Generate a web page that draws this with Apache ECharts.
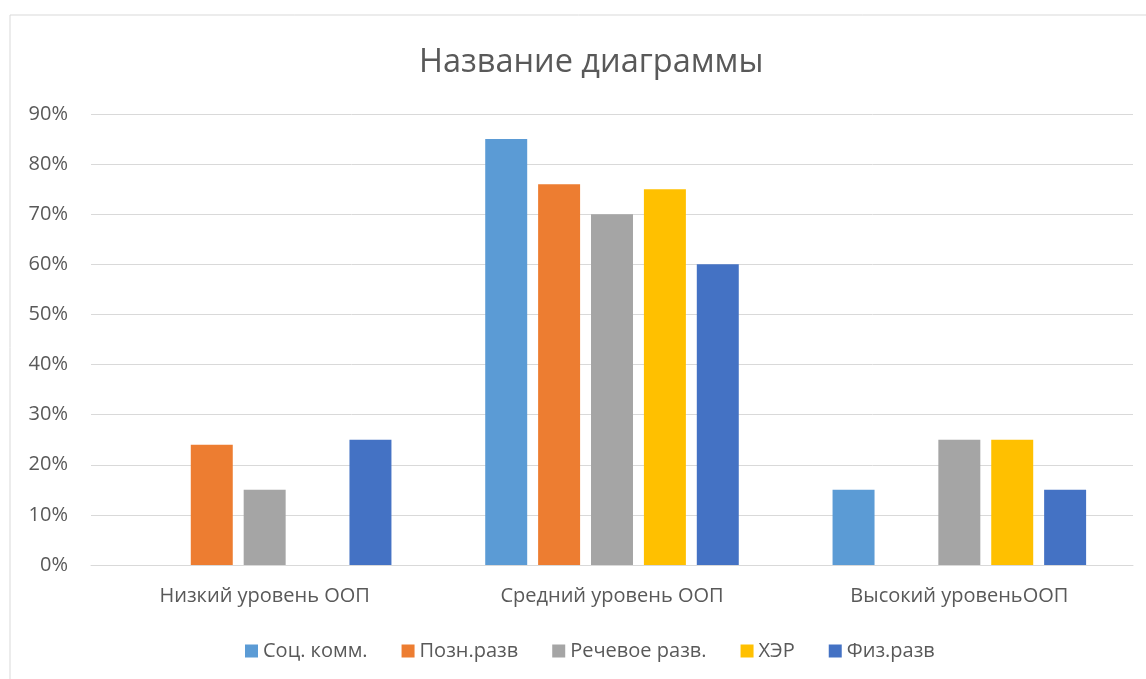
<!DOCTYPE html>
<html>
<head>
  <meta charset="utf-8">
  <script src="https://cdn.jsdelivr.net/npm/echarts@6.0.0/dist/echarts.min.js"></script>
  <style>
    body {
      margin: 0;
      padding: 0;
      background-color: white;
    }
    #main {
      width: 1146px;
      height: 679px;
    }
  </style>
  <title>Название диаграммы</title>
</head>
<body>
<div id="main"></div>
<script>
  var categories = ['Низкий уровень ООП', 'Средний уровень ООП', 'Высокий уровеньООП'];
  var seriesNames = ['Соц. комм.', 'Позн.разв', 'Речевое разв.', 'ХЭР', 'Физ.разв'];
  var socKomm = [0, 0.85, 0.15];
  var poznRazv = [0.24, 0.76, 0];
  var rechRazv = [0.15, 0.70, 0.25];
  var her = [0, 0.75, 0.25];
  var fizRazv = [0.25, 0.60, 0.15];
  var colors = ['#5B9BD5', '#ED7D31', '#A5A5A5', '#FFC000', '#4472C4'];

  var font = 'Open Sans';
  var allData = [socKomm, poznRazv, rechRazv, her, fizRazv];

  var myChart = echarts.init(document.getElementById('main'));

  myChart.setOption({
    animation: false,
    color: colors,
    graphic: [
      {
        type: 'rect',
        shape: { x: 10, y: 15, width: 1150, height: 680 },
        style: { fill: 'none', stroke: '#D9D9D9', lineWidth: 1 }
      }
    ],
    title: {
      text: 'Название диаграммы',
      left: 414,
      top: 41,
      textStyle: {
        fontFamily: font,
        fontSize: 32.5,
        fontWeight: 'normal',
        color: '#595959'
      }
    },
    legend: {
      data: seriesNames,
      top: 636,
      left: 240,
      itemWidth: 13,
      itemHeight: 13,
      itemGap: 34,
      icon: 'rect',
      textStyle: {
        fontFamily: font,
        fontSize: 20,
        color: '#595959'
      }
    },
    grid: {
      left: 91,
      right: 13,
      top: 114,
      bottom: 114
    },
    xAxis: {
      type: 'category',
      data: categories,
      axisLine: { lineStyle: { color: '#D9D9D9', width: 1 } },
      axisTick: { show: false },
      axisLabel: {
        fontFamily: font,
        fontSize: 20,
        color: '#595959',
        margin: 21
      }
    },
    yAxis: {
      type: 'value',
      min: 0,
      max: 0.9,
      interval: 0.1,
      axisLine: { show: false },
      axisTick: { show: false },
      splitLine: { lineStyle: { color: '#D9D9D9', width: 1 } },
      axisLabel: {
        fontFamily: font,
        fontSize: 20,
        color: '#595959',
        margin: 23,
        formatter: function (v) { return Math.round(v * 100) + '%'; }
      }
    },
    series: seriesNames.map(function (name, i) {
      return {
        name: name,
        type: 'bar',
        data: allData[i],
        barGap: '26%',
        barCategoryGap: '27%',
        itemStyle: { color: colors[i] }
      };
    })
  });
</script>
</body>
</html>
